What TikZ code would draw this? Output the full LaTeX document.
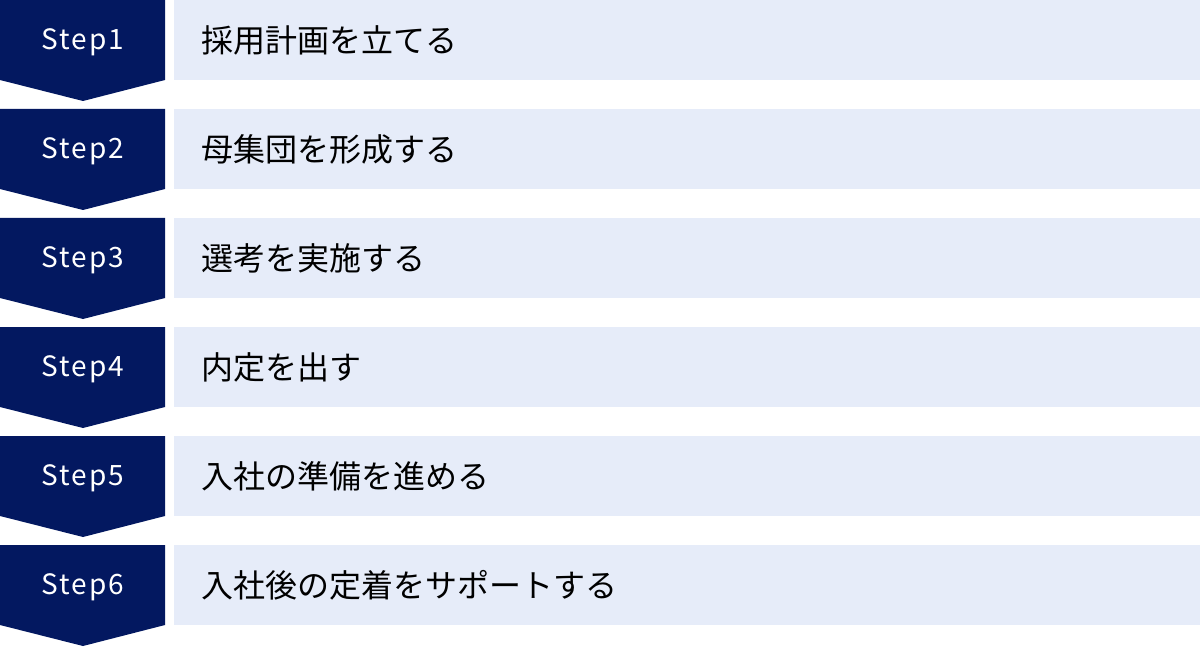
\documentclass[tikz,border=0pt]{standalone}
\usepackage{fontspec}
\setmainfont{Noto Sans CJK JP}
\newfontfamily\stepfont[LetterSpace=7]{Noto Sans CJK JP}
\definecolor{navy}{RGB}{3,24,96}
\definecolor{pale}{RGB}{230,236,249}
\begin{document}
\begin{tikzpicture}[x=1pt,y=1pt,
    stepbox/.style={fill=navy, draw=none},
    stepnum/.style={text=white, font=\stepfont\fontsize{28}{33}\selectfont},
    bar/.style={fill=pale, draw=none, anchor=north west, minimum width=1026, minimum height=80, inner sep=0},
    bartext/.style={anchor=west, inner sep=0, font=\fontsize{32}{38}\selectfont}]
            \useasboundingbox (0,0) rectangle (1200,-647);
            \foreach \i/\t in {1/採用計画を立てる, 2/母集団を形成する, 3/選考を実施する,
                4/内定を出す, 5/入社の準備を進める, 6/入社後の定着をサポートする} {
                \pgfmathsetmacro{\top}{-109*(\i-1)}
                \fill[stepbox] (0,\top) -- (165,\top) -- (165,\top-80) -- (83,\top-101) -- (0,\top-80) -- cycle;
                \node[stepnum] (S\i) at (83,\top-42) {Step\i};
                \node[bar] (B\i) at (174,\top) {};
                \node[bartext] (T\i) at ([xshift=27]B\i.west) {\t};
            }
        \end{tikzpicture}
\end{document}
